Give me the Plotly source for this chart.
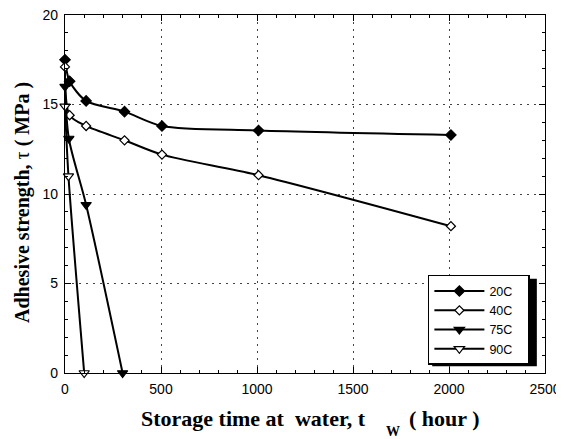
import plotly.graph_objects as go

t_20 = [0, 24, 110, 310, 505, 1008, 2010]
v_20 = [17.5, 16.3, 15.2, 14.6, 13.8, 13.55, 13.3]
t_40 = [0, 24, 110, 310, 505, 1008, 2010]
v_40 = [17.1, 14.4, 13.8, 13.0, 12.2, 11.05, 8.2]
t_75 = [0, 20, 110, 300]
v_75 = [16.0, 13.1, 9.4, 0]
t_90 = [0, 18, 100]
v_90 = [14.9, 11.0, 0]

series = [
    ("20C", t_20, v_20, "diamond", "black", 8),
    ("40C", t_40, v_40, "diamond", "white", 7),
    ("75C", t_75, v_75, "triangle-down", "black", 9),
    ("90C", t_90, v_90, "triangle-down", "white", 9),
]

NB = "\u00a0"
fig = go.Figure()
for name, x, y, sym, fill, sz in series:
    fig.add_trace(go.Scatter(
        x=x, y=y, name=name + NB * 3, mode="lines+markers",
        line=dict(color="black", width=2, shape="spline", smoothing=0.8),
        marker=dict(symbol=sym, size=sz, color=fill,
                    line=dict(color="black", width=1.2)),
        cliponaxis=False,
    ))

# legend drop shadow
fig.add_shape(type="rect", xref="paper", yref="paper",
              x0=0.765, x1=0.983, y0=0.019, y1=0.263,
              fillcolor="black", line=dict(width=0), layer="above")

serif = "Liberation Serif, Times New Roman"
fig.add_annotation(xref="paper", yref="paper", x=0.631, y=-0.128,
                   xanchor="right", yanchor="middle", showarrow=False,
                   text="<b>Storage time at" + NB + NB + "water, t</b>",
                   font=dict(family=serif, size=22, color="black"))
fig.add_annotation(xref="paper", yref="paper", x=0.683, y=-0.163,
                   xanchor="center", yanchor="middle", showarrow=False,
                   text="<b>W</b>",
                   font=dict(family=serif, size=14, color="black"))
fig.add_annotation(xref="paper", yref="paper", x=0.7125, y=-0.128,
                   xanchor="left", yanchor="middle", showarrow=False,
                   text="<b>( hour )</b>",
                   font=dict(family=serif, size=22, color="black"))
fig.add_annotation(xref="paper", yref="paper", x=-0.0875, y=0.475,
                   xanchor="center", yanchor="middle", showarrow=False, textangle=-90,
                   text="<b>Adhesive strength,</b> τ <b>( MPa )</b>",
                   font=dict(family=serif, size=20, color="black"))

grid = dict(showgrid=True, gridcolor="#444", griddash="2px,5px", gridwidth=1)
axis_common = dict(showline=True, linecolor="black", linewidth=1.2,
                   mirror="ticks", ticks="inside", ticklen=6, tickcolor="black",
                   zeroline=False, automargin=False, ticklabeloverflow="allow",
                   ticklabelstandoff=3, **grid)
fig.update_layout(
    width=556, height=431,
    margin=dict(l=57, r=19, t=7, b=66),
    paper_bgcolor="white", plot_bgcolor="white",
    font=dict(family="Liberation Sans, Arial", size=14, color="black"),
    showlegend=True,
    legend=dict(x=0.756, y=0.274, xanchor="left", yanchor="top",
                bgcolor="white", bordercolor="black", borderwidth=1.5,
                font=dict(family="Liberation Sans, Arial", size=12.5),
                tracegroupgap=0, itemwidth=50),
    xaxis=dict(range=[0, 2500], dtick=500,
               minor=dict(dtick=100, ticks="inside", ticklen=3, tickcolor="black"),
               **axis_common),
    yaxis=dict(range=[0, 20], dtick=5,
               minor=dict(dtick=1, ticks="inside", ticklen=3, tickcolor="black"),
               **axis_common),
)
fig.write_html("out.html")
